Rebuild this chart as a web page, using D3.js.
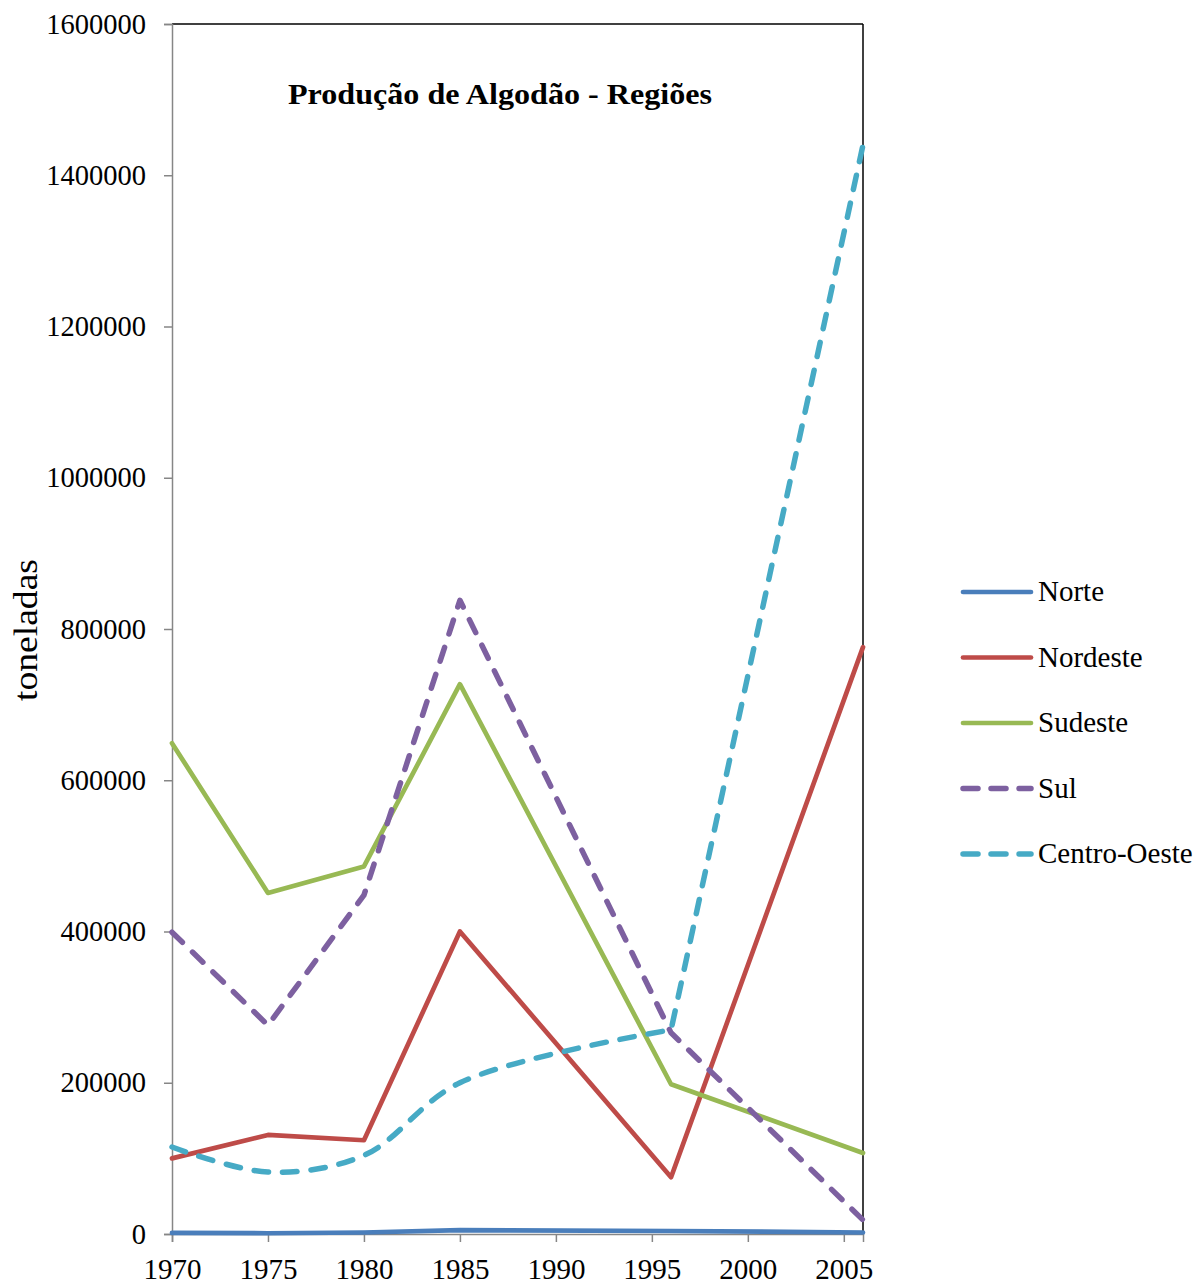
<!DOCTYPE html>
<html><head><meta charset="utf-8">
<script src="https://cdn.jsdelivr.net/npm/d3@7"></script>
<style>body{margin:0;background:#fff;} text{font-family:"Liberation Serif","Times New Roman",serif;}</style>
</head><body>
<svg id="c" width="1200" height="1286"></svg>
<script>
const years = [1970, 1975, 1980, 1985, 1996, 2006];
const norte = [1500, 1000, 2000, 5000, 4000, 2000];
const nordeste = [100000, 131000, 124000, 400000, 75000, 776000];
const sudeste = [649000, 451000, 486000, 727000, 198000, 107000];
const sul = [399000, 276000, 448000, 838000, 266000, 18500];
const centroOeste = [115000, 82000, 104000, 200000, 270000, 1440000];
const seriesNames = ["Norte", "Nordeste", "Sudeste", "Sul", "Centro-Oeste"];
const xTicks = [1970, 1975, 1980, 1985, 1990, 1995, 2000, 2005];
const yTicks = [0, 200000, 400000, 600000, 800000, 1000000, 1200000, 1400000, 1600000];
const title = "Produção de Algodão - Regiões";
const yLabel = "toneladas";

const series = [
  {name: seriesNames[0], values: norte, color: "#4a7ebb", dash: null, smooth: false},
  {name: seriesNames[1], values: nordeste, color: "#be4b48", dash: null, smooth: false},
  {name: seriesNames[2], values: sudeste, color: "#98b954", dash: null, smooth: false},
  {name: seriesNames[3], values: sul, color: "#7d60a0", dash: "14.5,14", smooth: false},
  {name: seriesNames[4], values: centroOeste, color: "#46aac5", dash: "14.5,14", smooth: true}
];

const svg = d3.select("#c");
const L = 172, R = 863, T = 24, B = 1234;
const x = d3.scaleLinear().domain([1970, 2006]).range([L, R]);
const y = d3.scaleLinear().domain([0, 1600000]).range([B, T]);

// top and right borders
svg.append("line").attr("x1", L).attr("x2", R).attr("y1", T).attr("y2", T).attr("stroke", "#000").attr("stroke-width", 1.5);
svg.append("line").attr("x1", R).attr("x2", R).attr("y1", T).attr("y2", B).attr("stroke", "#000").attr("stroke-width", 1.5);

const yAxis = svg.append("g").attr("transform", `translate(${L},0)`)
  .call(d3.axisLeft(y).tickValues(yTicks).tickSize(8).tickPadding(18).tickFormat(d3.format("d")));
const xAxis = svg.append("g").attr("transform", `translate(0,${B})`)
  .call(d3.axisBottom(x).tickValues(xTicks).tickSize(8).tickPadding(8).tickFormat(d3.format("d")));
[yAxis, xAxis].forEach(a => {
  a.select(".domain").attr("stroke", "#868686").attr("stroke-width", 1.5);
  a.selectAll(".tick line").attr("stroke", "#868686").attr("stroke-width", 1.5);
  a.selectAll(".tick text").attr("fill", "#000").style("font-family", '"Liberation Serif",serif');
});
yAxis.selectAll(".tick text").style("font-size", "28.5px");
xAxis.selectAll(".tick text").style("font-size", "29px").attr("y", 45).attr("dy", 0);

series.forEach(s => {
  const pts = s.values.map((v, i) => [x(years[i]), y(v)]);
  let d;
  if (s.smooth) {
    const n = pts.length;
    const smoothPart = d3.line().curve(d3.curveCatmullRom.alpha(0.5))(pts.slice(0, n - 1));
    d = smoothPart + "L" + pts[n - 1][0] + "," + pts[n - 1][1];
  } else {
    d = d3.line()(pts);
  }
  svg.append("path").attr("d", d).attr("fill", "none")
    .attr("stroke", s.color).attr("stroke-width", s.dash ? 5.5 : 4.7)
    .attr("stroke-linecap", "round").attr("stroke-linejoin", "round")
    .attr("stroke-dasharray", s.dash);
});

svg.append("text").attr("x", 500).attr("y", 104).attr("text-anchor", "middle")
  .attr("textLength", 424).attr("lengthAdjust", "spacingAndGlyphs")
  .style("font-size", "29px").style("font-weight", "bold").text(title);

svg.append("text").attr("transform", "translate(37,630) rotate(-90)").attr("text-anchor", "middle")
  .attr("textLength", 142).attr("lengthAdjust", "spacingAndGlyphs")
  .style("font-size", "33px").text(yLabel);

const lg = svg.append("g");
series.forEach((s, i) => {
  const yy = 592 + i * 65.5;
  lg.append("line").attr("x1", 963).attr("x2", 1031).attr("y1", yy).attr("y2", yy)
    .attr("stroke", s.color).attr("stroke-width", s.dash ? 5.5 : 4.7).attr("stroke-linecap", "round")
    .attr("stroke-dasharray", s.dash ? "15,13" : null);
  lg.append("text").attr("x", 1038).attr("y", yy + 9).style("font-size", "29px").text(s.name);
});
</script>
</body></html>
